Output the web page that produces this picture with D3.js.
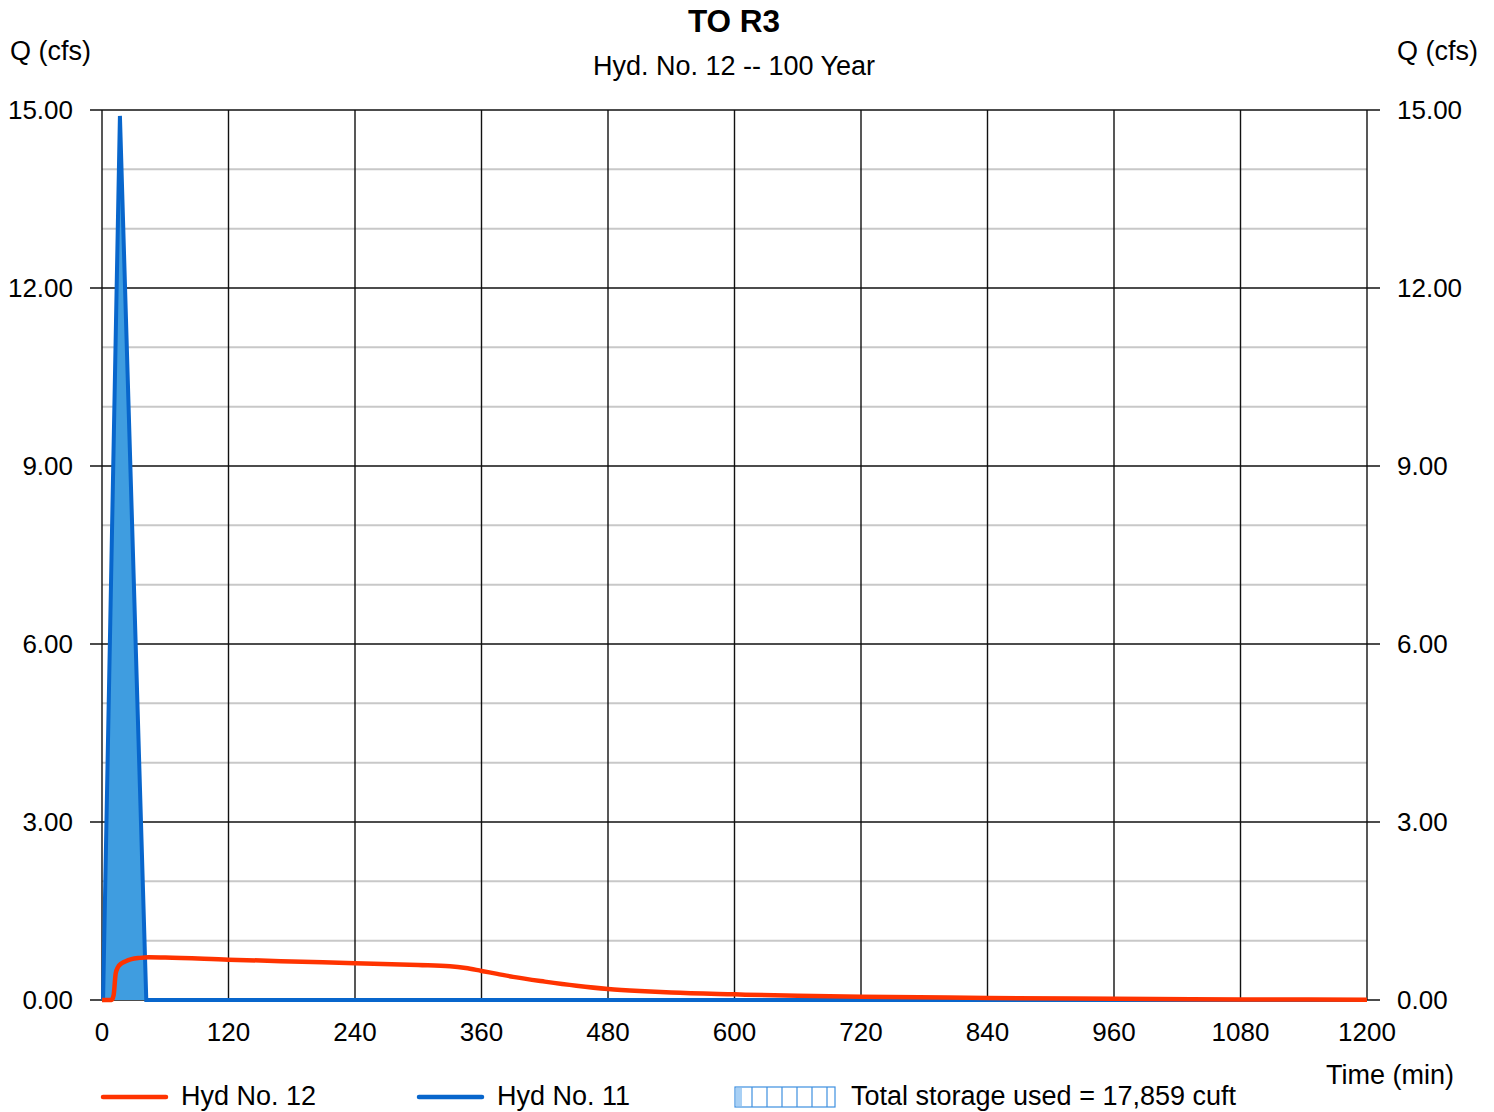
<!DOCTYPE html>
<html>
<head>
<meta charset="utf-8">
<script src="https://cdn.jsdelivr.net/npm/d3@7"></script>
<style>
  html, body { margin: 0; padding: 0; background: #fff; }
  text { font-family: "Liberation Sans", Arial, sans-serif; fill: #000; }
</style>
</head>
<body>
<svg id="chart" width="1494" height="1112"></svg>
<script>
// ---- Data ----
const title = "TO R3";
const subtitle = "Hyd. No. 12 -- 100 Year";
const xTicks = [0, 120, 240, 360, 480, 600, 720, 840, 960, 1080, 1200];
const yTicks = [0, 3, 6, 9, 12, 15];
const yMinor = [1, 2, 4, 5, 7, 8, 10, 11, 13, 14];

// Hyd No. 11 (inflow) : time (min), Q (cfs)
const hyd11Time = [0, 1, 17, 42, 43, 1200];
const hyd11Q    = [0, 0, 14.90, 0, 0, 0];

// Hyd No. 12 (outflow) : time (min), Q (cfs)
const hyd12Time = [0, 9, 11, 13, 15, 18, 22, 28, 36, 44, 60, 120, 180, 240, 300, 330, 345, 360, 375, 390, 420, 450, 480, 510, 540, 600, 660, 720, 840, 960, 1080, 1200];
const hyd12Q    = [0, 0, 0.08, 0.45, 0.55, 0.61, 0.65, 0.69, 0.71, 0.72, 0.715, 0.68, 0.65, 0.62, 0.59, 0.57, 0.54, 0.49, 0.44, 0.39, 0.31, 0.24, 0.185, 0.15, 0.125, 0.095, 0.07, 0.055, 0.035, 0.02, 0.01, 0.005];

const legendItems = ["Hyd No. 12", "Hyd No. 11"];
const storageText = "Total storage used = 17,859 cuft";

// ---- Chart ----
const svg = d3.select("#chart");
const x = d3.scaleLinear().domain([0, 1200]).range([102, 1367]);
const y = d3.scaleLinear().domain([0, 15]).range([1000, 110]);
const FS = 27;
const FS_Y = 26;

// minor gridlines
svg.append("g").selectAll("line").data(yMinor).join("line")
  .attr("x1", x(0)).attr("x2", x(1200))
  .attr("y1", d => y(d)).attr("y2", d => y(d))
  .attr("stroke", "#c8c8c8").attr("stroke-width", 2);

// major horizontal gridlines + ticks
svg.append("g").selectAll("line").data(yTicks).join("line")
  .attr("x1", x(0) - 12).attr("x2", x(1200) + 13)
  .attr("y1", d => y(d)).attr("y2", d => y(d))
  .attr("stroke", "#111").attr("stroke-width", 1.4);

// major vertical gridlines
svg.append("g").selectAll("line").data(xTicks).join("line")
  .attr("x1", d => x(d)).attr("x2", d => x(d))
  .attr("y1", y(15)).attr("y2", y(0))
  .attr("stroke", "#111").attr("stroke-width", 1.4);

// y labels left & right
svg.append("g").selectAll("text").data(yTicks).join("text")
  .attr("x", 73).attr("y", d => y(d) + 9)
  .attr("text-anchor", "end").attr("font-size", FS_Y)
  .text(d => d.toFixed(2));
svg.append("g").selectAll("text").data(yTicks).join("text")
  .attr("x", 1397).attr("y", d => y(d) + 9)
  .attr("text-anchor", "start").attr("font-size", FS_Y)
  .text(d => d.toFixed(2));

// x labels
svg.append("g").selectAll("text").data(xTicks).join("text")
  .attr("x", d => x(d)).attr("y", 1041)
  .attr("text-anchor", "middle").attr("font-size", FS_Y)
  .text(d => d);

// axis titles
svg.append("text").attr("x", 10).attr("y", 60).attr("font-size", FS).text("Q (cfs)");
svg.append("text").attr("x", 1397).attr("y", 60).attr("font-size", FS).text("Q (cfs)");
svg.append("text").attr("x", 1454).attr("y", 1084).attr("text-anchor", "end").attr("font-size", FS).text("Time (min)");

// titles
svg.append("text").attr("x", 734).attr("y", 32).attr("text-anchor", "middle")
  .attr("font-size", 31.5).attr("font-weight", "bold").text(title);
svg.append("text").attr("x", 734).attr("y", 75).attr("text-anchor", "middle")
  .attr("font-size", FS).text(subtitle);

// Hyd 11 area + line
const h11 = hyd11Time.map((t, i) => [t, hyd11Q[i]]);
svg.append("path").datum(h11)
  .attr("d", d3.area().x(d => x(d[0])).y0(y(0)).y1(d => y(d[1])))
  .attr("fill", "#3f9de0");
svg.append("path").datum(h11)
  .attr("d", d3.line().x(d => x(d[0])).y(d => y(d[1])))
  .attr("fill", "none").attr("stroke", "#0866cc").attr("stroke-width", 4)
  .attr("stroke-linejoin", "miter");

// Hyd 12 line
const h12 = hyd12Time.map((t, i) => [t, hyd12Q[i]]);
svg.append("path").datum(h12)
  .attr("d", d3.line().curve(d3.curveMonotoneX).x(d => x(d[0])).y(d => y(d[1])))
  .attr("fill", "none").attr("stroke", "#ff3300").attr("stroke-width", 4.5)
  .attr("stroke-linejoin", "round");

// legend
const lg = svg.append("g");
lg.append("line").attr("x1", 103).attr("x2", 166).attr("y1", 1097).attr("y2", 1097)
  .attr("stroke", "#ff3300").attr("stroke-width", 4.5).attr("stroke-linecap", "round");
lg.append("text").attr("x", 181).attr("y", 1105).attr("font-size", FS).text(legendItems[0]);
lg.append("line").attr("x1", 419).attr("x2", 482).attr("y1", 1097).attr("y2", 1097)
  .attr("stroke", "#0866cc").attr("stroke-width", 4.5).attr("stroke-linecap", "round");
lg.append("text").attr("x", 497).attr("y", 1105).attr("font-size", FS).text(legendItems[1]);
lg.append("rect").attr("x", 735).attr("y", 1087).attr("width", 100).attr("height", 20)
  .attr("fill", "#fff").attr("stroke", "#3d8fe0").attr("stroke-width", 1.2);
lg.append("rect").attr("x", 736).attr("y", 1088).attr("width", 6).attr("height", 18).attr("fill", "#a8d0f5");
lg.append("g").selectAll("line").data(d3.range(752, 835, 15)).join("line")
  .attr("x1", d => d).attr("x2", d => d).attr("y1", 1087).attr("y2", 1107)
  .attr("stroke", "#3d8fe0").attr("stroke-width", 1.2);
lg.append("text").attr("x", 851).attr("y", 1105).attr("font-size", FS).text(storageText);
</script>
</body>
</html>
